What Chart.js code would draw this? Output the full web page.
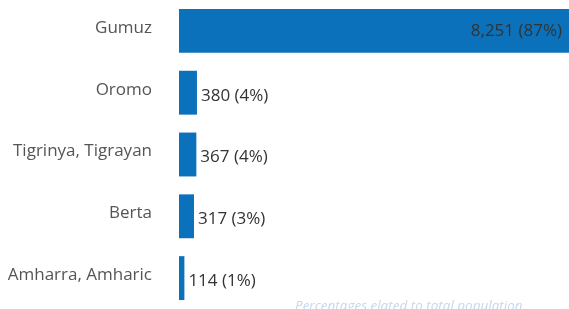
<!DOCTYPE html>
<html>
<head>
<meta charset="utf-8">
<script src="https://cdn.jsdelivr.net/npm/chart.js@4"></script>
<style>
  html, body { margin: 0; padding: 0; background: #fff; }
  #wrap { position: relative; width: 569px; height: 309px; overflow: hidden; }
  #note {
    position: absolute; left: 295px; top: 296px;
    font: italic 13.5px "Open Sans", sans-serif; color: #c3d9ec; white-space: nowrap;
  }
</style>
</head>
<body>
<div id="wrap">
  <canvas id="chart"></canvas>
  <div id="note">Percentages elated to total population</div>
</div>
<script>
// ── Data ──────────────────────────────────────────────────────
const languages = ['Gumuz', 'Oromo', 'Tigrinya, Tigrayan', 'Berta', 'Amharra, Amharic'];
const speakers  = [8251, 380, 367, 317, 114];
const shares    = [87, 4, 4, 3, 1];

const BAR_COLOR = '#0b71ba';
const FONT = '"Open Sans", sans-serif';

// ── Value labels ──────────────────────────────────────────────
const valueLabels = {
    id: 'valueLabels',
    afterDatasetsDraw(c) {
        const ctx = c.ctx;
        const meta = c.getDatasetMeta(0);
        ctx.save();
        ctx.font = '17px ' + FONT;
        ctx.fillStyle = '#333';
        ctx.textBaseline = 'middle';
        meta.data.forEach((bar, i) => {
            const txt = `${speakers[i].toLocaleString('en-US')} (${shares[i]}%)`;
            const w = ctx.measureText(txt).width;
            if (bar.x - bar.base > w + 14) {
                ctx.textAlign = 'right';
                ctx.fillText(txt, bar.x - 7, bar.y);
            } else {
                ctx.textAlign = 'left';
                ctx.fillText(txt, bar.x + 4, bar.y + 3);
            }
        });
        ctx.restore();
    }
};

new Chart(document.getElementById('chart'), {
    type: 'bar',
    data: {
        labels: languages,
        datasets: [{
            data: speakers,
            backgroundColor: BAR_COLOR,
            categoryPercentage: 1,
            barPercentage: 0.71,
        }]
    },
    options: {
        indexAxis: 'y',
        responsive: true,
        maintainAspectRatio: false,
        animation: false,
        layout: { padding: 0 },
        plugins: { legend: { display: false }, tooltip: { enabled: false } },
        scales: {
            x: { display: false, min: 0, max: 8251 },
            y: {
                afterFit: s => {
                    s.width = 179;
                    s.paddingTop = 0;
                    s.paddingBottom = 0;
                },
                grid: { display: false, drawTicks: false },
                border: { display: false },
                ticks: { color: '#555', font: { family: 'Open Sans', size: 17 }, padding: 27, labelOffset: -3 }
            }
        }
    },
    plugins: [valueLabels]
});
</script>
</body>
</html>
